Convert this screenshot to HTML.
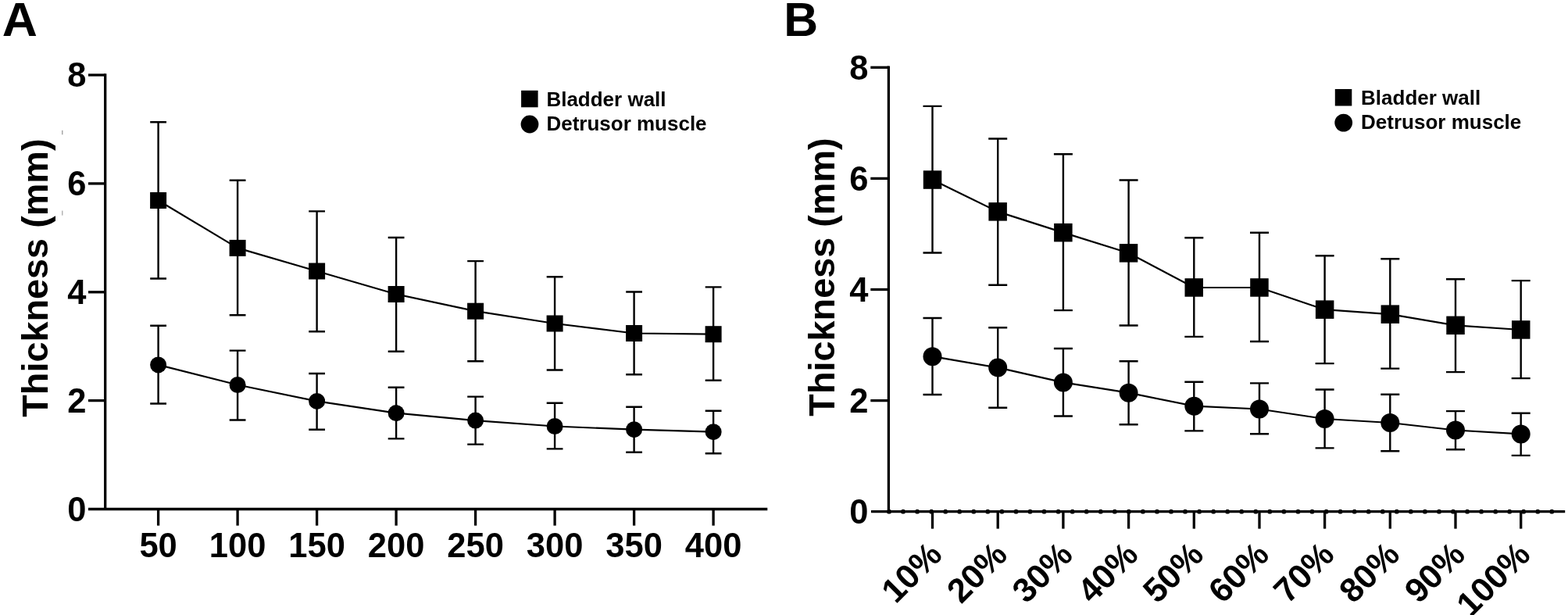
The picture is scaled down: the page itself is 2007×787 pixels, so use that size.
<!DOCTYPE html><html><head><meta charset="utf-8"><style>
html,body{margin:0;padding:0;background:#fff;}
svg{display:block;}
text{font-family:"Liberation Sans", sans-serif;font-weight:700;fill:#000;}
path{stroke:#000;stroke-width:2.4;fill:none;}
.ln{stroke:#000;stroke-width:2.2;fill:none;stroke-linejoin:round;}
path.ax{stroke-width:3.3;}
rect,circle{fill:#000;}
</style></head><body>
<svg width="2007" height="787" viewBox="0 0 2007 787">
<text transform="translate(2.7,46.4) scale(1.025,1)" font-size="61">A</text>
<text x="1003.2" y="46.1" font-size="60.8">B</text>
<path d="M202.6 156.2V356.5M192.2 156.2H213M192.2 356.5H213"/>
<path d="M202.6 416.7V516.5M192.2 416.7H213M192.2 516.5H213"/>
<path d="M304.1 230.7V403.3M293.7 230.7H314.5M293.7 403.3H314.5"/>
<path d="M304.1 448.6V537.5M293.7 448.6H314.5M293.7 537.5H314.5"/>
<path d="M405.6 270.4V424.3M395.2 270.4H416M395.2 424.3H416"/>
<path d="M405.6 478V549.7M395.2 478H416M395.2 549.7H416"/>
<path d="M507.1 304V449.7M496.7 304H517.5M496.7 449.7H517.5"/>
<path d="M507.1 495.8V561.4M496.7 495.8H517.5M496.7 561.4H517.5"/>
<path d="M608.6 334.1V462.2M598.2 334.1H619M598.2 462.2H619"/>
<path d="M608.6 507.6V568.6M598.2 507.6H619M598.2 568.6H619"/>
<path d="M710.1 354.2V473.5M699.7 354.2H720.5M699.7 473.5H720.5"/>
<path d="M710.1 515.8V574.4M699.7 515.8H720.5M699.7 574.4H720.5"/>
<path d="M811.6 373.5V479.2M801.2 373.5H822M801.2 479.2H822"/>
<path d="M811.6 520.7V578.7M801.2 520.7H822M801.2 578.7H822"/>
<path d="M913.1 367.4V486.8M902.7 367.4H923.5M902.7 486.8H923.5"/>
<path d="M913.1 525.7V580.2M902.7 525.7H923.5M902.7 580.2H923.5"/>
<polyline class="ln" points="202.6,256.5 304.1,317.4 405.6,347 507.1,376.5 608.6,398.2 710.1,414 811.6,426.5 913.1,427.7"/>
<polyline class="ln" points="202.6,466.9 304.1,492.5 405.6,513.4 507.1,528.6 608.6,538.1 710.1,545.5 811.6,549.7 913.1,552.7"/>
<rect x="192.1" y="246" width="21" height="21"/>
<rect x="293.6" y="306.9" width="21" height="21"/>
<rect x="395.1" y="336.5" width="21" height="21"/>
<rect x="496.6" y="366" width="21" height="21"/>
<rect x="598.1" y="387.7" width="21" height="21"/>
<rect x="699.6" y="403.5" width="21" height="21"/>
<rect x="801.1" y="416" width="21" height="21"/>
<rect x="902.6" y="417.2" width="21" height="21"/>
<circle cx="202.6" cy="466.9" r="10.5"/>
<circle cx="304.1" cy="492.5" r="10.5"/>
<circle cx="405.6" cy="513.4" r="10.5"/>
<circle cx="507.1" cy="528.6" r="10.5"/>
<circle cx="608.6" cy="538.1" r="10.5"/>
<circle cx="710.1" cy="545.5" r="10.5"/>
<circle cx="811.6" cy="549.7" r="10.5"/>
<circle cx="913.1" cy="552.7" r="10.5"/>
<path class="ax" d="M134.7 94.3V653.1"/>
<path class="ax" d="M113 651.5H982.3"/>
<path class="ax" d="M113 512.6H134.7"/>
<path class="ax" d="M113 373.8H134.7"/>
<path class="ax" d="M113 234.9H134.7"/>
<path class="ax" d="M113 96H134.7"/>
<path class="ax" d="M202.6 651.5V672.6"/>
<path class="ax" d="M304.1 651.5V672.6"/>
<path class="ax" d="M405.6 651.5V672.6"/>
<path class="ax" d="M507.1 651.5V672.6"/>
<path class="ax" d="M608.6 651.5V672.6"/>
<path class="ax" d="M710.1 651.5V672.6"/>
<path class="ax" d="M811.6 651.5V672.6"/>
<path class="ax" d="M913.1 651.5V672.6"/>
<rect x="79" y="166.8" width="1.5" height="5.5" style="fill:#a8a8a8"/>
<rect x="79" y="269.6" width="1.5" height="6" style="fill:#b4b4b4"/>
<path d="M1193.5 135.9V323.5M1181.5 135.9H1205.5M1181.5 323.5H1205.5"/>
<path d="M1193.5 407V505M1181.5 407H1205.5M1181.5 505H1205.5"/>
<path d="M1277.2 177.5V364.7M1265.2 177.5H1289.2M1265.2 364.7H1289.2"/>
<path d="M1277.2 419.3V521.8M1265.2 419.3H1289.2M1265.2 521.8H1289.2"/>
<path d="M1360.9 197.3V397.1M1348.9 197.3H1372.9M1348.9 397.1H1372.9"/>
<path d="M1360.9 446V532.5M1348.9 446H1372.9M1348.9 532.5H1372.9"/>
<path d="M1444.6 230.5V416.5M1432.6 230.5H1456.6M1432.6 416.5H1456.6"/>
<path d="M1444.6 462.2V543.3M1432.6 462.2H1456.6M1432.6 543.3H1456.6"/>
<path d="M1528.3 304.3V430.9M1516.3 304.3H1540.3M1516.3 430.9H1540.3"/>
<path d="M1528.3 488.8V551.4M1516.3 488.8H1540.3M1516.3 551.4H1540.3"/>
<path d="M1612 297.8V437M1600 297.8H1624M1600 437H1624"/>
<path d="M1612 490.4V555.2M1600 490.4H1624M1600 555.2H1624"/>
<path d="M1695.6 327.3V465.1M1683.6 327.3H1707.6M1683.6 465.1H1707.6"/>
<path d="M1695.6 498.5V573.4M1683.6 498.5H1707.6M1683.6 573.4H1707.6"/>
<path d="M1779.3 331.3V471.6M1767.3 331.3H1791.3M1767.3 471.6H1791.3"/>
<path d="M1779.3 504.7V577.2M1767.3 504.7H1791.3M1767.3 577.2H1791.3"/>
<path d="M1863 357.2V476.1M1851 357.2H1875M1851 476.1H1875"/>
<path d="M1863 526.1V575.3M1851 526.1H1875M1851 575.3H1875"/>
<path d="M1946.7 359.1V484.1M1934.7 359.1H1958.7M1934.7 484.1H1958.7"/>
<path d="M1946.7 528.7V582.9M1934.7 528.7H1958.7M1934.7 582.9H1958.7"/>
<polyline class="ln" points="1193.5,230.1 1277.2,270.9 1360.9,297.6 1444.6,323.8 1528.3,368 1612,368 1695.6,396.2 1779.3,402.2 1863,416.3 1946.7,422"/>
<polyline class="ln" points="1193.5,456.2 1277.2,470.4 1360.9,489.4 1444.6,502.7 1528.3,519.7 1612,523.5 1695.6,536 1779.3,541 1863,550.5 1946.7,555.4"/>
<rect x="1181.8" y="218.3" width="23.5" height="23.5"/>
<rect x="1265.4" y="259.1" width="23.5" height="23.5"/>
<rect x="1349.1" y="285.9" width="23.5" height="23.5"/>
<rect x="1432.8" y="312.1" width="23.5" height="23.5"/>
<rect x="1516.5" y="356.2" width="23.5" height="23.5"/>
<rect x="1600.2" y="356.2" width="23.5" height="23.5"/>
<rect x="1683.9" y="384.4" width="23.5" height="23.5"/>
<rect x="1767.6" y="390.4" width="23.5" height="23.5"/>
<rect x="1851.3" y="404.6" width="23.5" height="23.5"/>
<rect x="1935" y="410.2" width="23.5" height="23.5"/>
<circle cx="1193.5" cy="456.2" r="12"/>
<circle cx="1277.2" cy="470.4" r="12"/>
<circle cx="1360.9" cy="489.4" r="12"/>
<circle cx="1444.6" cy="502.7" r="12"/>
<circle cx="1528.3" cy="519.7" r="12"/>
<circle cx="1612" cy="523.5" r="12"/>
<circle cx="1695.6" cy="536" r="12"/>
<circle cx="1779.3" cy="541" r="12"/>
<circle cx="1863" cy="550.5" r="12"/>
<circle cx="1946.7" cy="555.4" r="12"/>
<path class="ax" d="M1137.4 84.6V656.4"/>
<path class="ax" d="M1115 654.7H2003.2"/>
<path class="ax" d="M1114.3 512.6H1137.4"/>
<path class="ax" d="M1114.3 370.5H1137.4"/>
<path class="ax" d="M1114.3 228.4H1137.4"/>
<path class="ax" d="M1114.3 86.3H1137.4"/>
<path class="ax" d="M1193.5 654.7V676.6"/>
<path class="ax" d="M1277.2 654.7V676.6"/>
<path class="ax" d="M1360.9 654.7V676.6"/>
<path class="ax" d="M1444.6 654.7V676.6"/>
<path class="ax" d="M1528.3 654.7V676.6"/>
<path class="ax" d="M1612 654.7V676.6"/>
<path class="ax" d="M1695.6 654.7V676.6"/>
<path class="ax" d="M1779.3 654.7V676.6"/>
<path class="ax" d="M1863 654.7V676.6"/>
<path class="ax" d="M1946.7 654.7V676.6"/>
<circle cx="1138" cy="654.7" r="2.9"/>
<circle cx="1156" cy="654.7" r="2.9"/>
<circle cx="1174.1" cy="654.7" r="2.9"/>
<circle cx="1192.2" cy="654.7" r="2.9"/>
<circle cx="1210.2" cy="654.7" r="2.9"/>
<circle cx="1228.2" cy="654.7" r="2.9"/>
<circle cx="1246.3" cy="654.7" r="2.9"/>
<circle cx="1264.3" cy="654.7" r="2.9"/>
<circle cx="1282.4" cy="654.7" r="2.9"/>
<circle cx="1300.5" cy="654.7" r="2.9"/>
<circle cx="1318.5" cy="654.7" r="2.9"/>
<circle cx="1336.5" cy="654.7" r="2.9"/>
<circle cx="1354.6" cy="654.7" r="2.9"/>
<circle cx="1372.7" cy="654.7" r="2.9"/>
<circle cx="1390.7" cy="654.7" r="2.9"/>
<circle cx="1408.8" cy="654.7" r="2.9"/>
<circle cx="1426.8" cy="654.7" r="2.9"/>
<circle cx="1444.8" cy="654.7" r="2.9"/>
<circle cx="1462.9" cy="654.7" r="2.9"/>
<circle cx="1481" cy="654.7" r="2.9"/>
<circle cx="1499" cy="654.7" r="2.9"/>
<circle cx="1517" cy="654.7" r="2.9"/>
<circle cx="1535.1" cy="654.7" r="2.9"/>
<circle cx="1553.2" cy="654.7" r="2.9"/>
<circle cx="1571.2" cy="654.7" r="2.9"/>
<circle cx="1589.2" cy="654.7" r="2.9"/>
<circle cx="1607.3" cy="654.7" r="2.9"/>
<circle cx="1625.3" cy="654.7" r="2.9"/>
<circle cx="1643.4" cy="654.7" r="2.9"/>
<circle cx="1661.5" cy="654.7" r="2.9"/>
<circle cx="1679.5" cy="654.7" r="2.9"/>
<circle cx="1697.6" cy="654.7" r="2.9"/>
<circle cx="1715.6" cy="654.7" r="2.9"/>
<circle cx="1733.7" cy="654.7" r="2.9"/>
<circle cx="1751.7" cy="654.7" r="2.9"/>
<circle cx="1769.8" cy="654.7" r="2.9"/>
<circle cx="1787.8" cy="654.7" r="2.9"/>
<circle cx="1805.8" cy="654.7" r="2.9"/>
<circle cx="1823.9" cy="654.7" r="2.9"/>
<circle cx="1842" cy="654.7" r="2.9"/>
<circle cx="1860" cy="654.7" r="2.9"/>
<circle cx="1878.1" cy="654.7" r="2.9"/>
<circle cx="1896.1" cy="654.7" r="2.9"/>
<circle cx="1914.2" cy="654.7" r="2.9"/>
<circle cx="1932.2" cy="654.7" r="2.9"/>
<circle cx="1950.2" cy="654.7" r="2.9"/>
<circle cx="1968.3" cy="654.7" r="2.9"/>
<circle cx="1986.3" cy="654.7" r="2.9"/>
<text x="110.5" y="666.7" font-size="43.5" text-anchor="end">0</text>
<text x="110.5" y="527.8" font-size="43.5" text-anchor="end">2</text>
<text x="110.5" y="388.9" font-size="43.5" text-anchor="end">4</text>
<text x="110.5" y="250.1" font-size="43.5" text-anchor="end">6</text>
<text x="110.5" y="111.2" font-size="43.5" text-anchor="end">8</text>
<text x="1111.5" y="669.9" font-size="43.5" text-anchor="end">0</text>
<text x="1111.5" y="527.8" font-size="43.5" text-anchor="end">2</text>
<text x="1111.5" y="385.7" font-size="43.5" text-anchor="end">4</text>
<text x="1111.5" y="243.6" font-size="43.5" text-anchor="end">6</text>
<text x="1111.5" y="101.5" font-size="43.5" text-anchor="end">8</text>
<text x="202.6" y="713" font-size="43.5" text-anchor="middle">50</text>
<text x="304.1" y="713" font-size="43.5" text-anchor="middle">100</text>
<text x="405.6" y="713" font-size="43.5" text-anchor="middle">150</text>
<text x="507.1" y="713" font-size="43.5" text-anchor="middle">200</text>
<text x="608.6" y="713" font-size="43.5" text-anchor="middle">250</text>
<text x="710.1" y="713" font-size="43.5" text-anchor="middle">300</text>
<text x="811.6" y="713" font-size="43.5" text-anchor="middle">350</text>
<text x="913.1" y="713" font-size="43.5" text-anchor="middle">400</text>
<text transform="translate(1208,712.2) rotate(-45)" font-size="43.5" text-anchor="end">10%</text>
<text transform="translate(1291.7,712.2) rotate(-45)" font-size="43.5" text-anchor="end">20%</text>
<text transform="translate(1375.4,712.2) rotate(-45)" font-size="43.5" text-anchor="end">30%</text>
<text transform="translate(1459.1,712.2) rotate(-45)" font-size="43.5" text-anchor="end">40%</text>
<text transform="translate(1542.8,712.2) rotate(-45)" font-size="43.5" text-anchor="end">50%</text>
<text transform="translate(1626.5,712.2) rotate(-45)" font-size="43.5" text-anchor="end">60%</text>
<text transform="translate(1710.1,712.2) rotate(-45)" font-size="43.5" text-anchor="end">70%</text>
<text transform="translate(1793.8,712.2) rotate(-45)" font-size="43.5" text-anchor="end">80%</text>
<text transform="translate(1877.5,712.2) rotate(-45)" font-size="43.5" text-anchor="end">90%</text>
<text transform="translate(1961.2,712.2) rotate(-45)" font-size="43.5" text-anchor="end">100%</text>
<text transform="translate(60.6,355.6) rotate(-90)" font-size="46.8" text-anchor="middle">Thickness (mm)</text>
<text transform="translate(1067.5,354.5) rotate(-90)" font-size="46.8" text-anchor="middle">Thickness (mm)</text>
<rect x="667.1" y="115.8" width="21.5" height="21.5"/>
<circle cx="678" cy="159" r="11.4"/>
<text x="699.4" y="136.1" font-size="26">Bladder wall</text>
<text x="699.4" y="166.6" font-size="26">Detrusor muscle</text>
<rect x="1708.8" y="114" width="21.5" height="21.5"/>
<circle cx="1719.7" cy="157.1" r="11.4"/>
<text x="1742.1" y="134" font-size="26">Bladder wall</text>
<text x="1742.1" y="165" font-size="26">Detrusor muscle</text>
</svg></body></html>
